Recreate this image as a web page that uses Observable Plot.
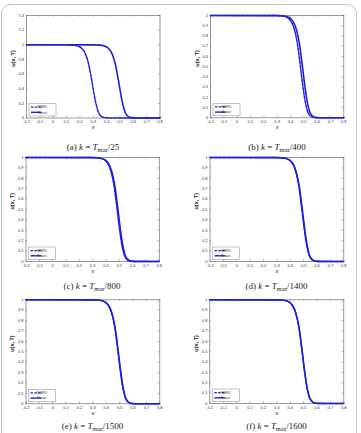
<!DOCTYPE html>
<html>
<head>
<meta charset="utf-8">
<script src="https://cdn.jsdelivr.net/npm/d3@7"></script>
<script src="https://cdn.jsdelivr.net/npm/@observablehq/plot@0.6"></script>
<style>
  html, body { margin: 0; padding: 0; background: #fff; }
  #fig { position: relative; width: 361px; height: 433px; overflow: hidden; background: #fff; }
  #fig .border { position: absolute; left: 1px; top: 4px; width: 354px; height: 445px;
    border: 1.5px solid #c4c4c4; border-radius: 10px; }
  .panel { position: absolute; }
  .cap { position: absolute; font-family: "Liberation Serif", "DejaVu Serif", serif; font-size: 9px;
    color: #222; white-space: nowrap; transform: translate(-50%, -50%); line-height: 1; }
  .cap i { font-style: italic; }
  .cap sub { font-size: 6px; vertical-align: -2px; line-height: 0; }
</style>
</head>
<body>
<div id="fig"><div class="border"></div></div>
<script>
// Solution profile u(x, T): u values at which each curve's x position is listed
const uLevels = [1, 0.999, 0.995, 0.98, 0.95, 0.9, 0.8, 0.7, 0.6, 0.5, 0.4, 0.3, 0.2, 0.1, 0.05, 0.02, 0.005, 0.001, 0];

// Exact solution (same in every panel)
const exactX = [-0.2, 0.308, 0.352, 0.390, 0.415, 0.435, 0.456, 0.470, 0.480, 0.490, 0.499, 0.509, 0.520, 0.535, 0.547, 0.563, 0.583, 0.606, 0.8];

// NSFD solution for each time step k
const nsfdA = [-0.2, 0.108, 0.152, 0.190, 0.215, 0.235, 0.256, 0.270, 0.280, 0.290, 0.299, 0.309, 0.320, 0.335, 0.347, 0.363, 0.383, 0.406, 0.8];
const nsfdB = [-0.2, 0.293, 0.337, 0.375, 0.400, 0.420, 0.441, 0.455, 0.465, 0.475, 0.484, 0.494, 0.505, 0.520, 0.532, 0.548, 0.568, 0.591, 0.8];
const nsfdC = [-0.2, 0.302, 0.346, 0.384, 0.409, 0.429, 0.450, 0.464, 0.474, 0.484, 0.493, 0.503, 0.514, 0.529, 0.541, 0.557, 0.577, 0.600, 0.8];
const nsfdD = [-0.2, 0.305, 0.349, 0.387, 0.412, 0.432, 0.453, 0.467, 0.477, 0.487, 0.496, 0.506, 0.517, 0.532, 0.544, 0.560, 0.580, 0.603, 0.8];
const nsfdE = [-0.2, 0.306, 0.350, 0.388, 0.413, 0.433, 0.454, 0.468, 0.478, 0.488, 0.497, 0.507, 0.518, 0.533, 0.545, 0.561, 0.581, 0.604, 0.8];
const nsfdF = [-0.2, 0.307, 0.351, 0.389, 0.414, 0.434, 0.455, 0.469, 0.479, 0.489, 0.498, 0.508, 0.519, 0.534, 0.546, 0.562, 0.582, 0.605, 0.8];

// Axis ticks
const xTicks = [-0.2, -0.1, 0, 0.1, 0.2, 0.3, 0.4, 0.5, 0.6, 0.7, 0.8];
const yTicksWide = [0, 0.2, 0.4, 0.6, 0.8, 1, 1.2, 1.4];
const yTicksUnit = [0, 0.1, 0.2, 0.3, 0.4, 0.5, 0.6, 0.7, 0.8, 0.9, 1];

// Captions
const panelLetters = ["a", "b", "c", "d", "e", "f"];
const stepDenominators = ["25", "400", "800", "1400", "1500", "1600"];
const legendLabels = ["NSFD", "Exact"];
const xLabel = "x";
const yLabel = "u(x, T)";

const nsfdSeries = [nsfdA, nsfdB, nsfdC, nsfdD, nsfdE, nsfdF];
const yDomains = [1.4, 1, 1, 1, 1, 1];
const yTickSets = [yTicksWide, yTicksUnit, yTicksUnit, yTicksUnit, yTicksUnit, yTicksUnit];

// Page layout: frame edges [left, right, top, bottom] and caption centre
const frames = [
  [26, 159.5, 15, 117.5], [210, 343.3, 15, 117.3],
  [25.5, 158.8, 157, 261], [209.5, 343.3, 157, 261],
  [25.5, 159.3, 299.3, 403.3], [209.3, 343.3, 299.3, 403]
];
const captionPos = [[93, 147], [277, 147], [92, 286], [276.5, 286], [92.5, 425.5], [276.5, 425.5]];

const blue = "#1e1ee0";
const axisGray = "#707070";
const fmt = d => String(+d.toFixed(1));

const fig = document.getElementById("fig");

frames.forEach((fr, i) => {
  const col = i % 2, row = Math.floor(i / 2);
  const sx = col * 180, sy = row * 142, W = 181, H = 142;
  const [L, R, T, B] = fr;
  const ml = L - sx, mr = sx + W - R, mt = T - sy, mb = sy + H - B;
  const fw = R - L, fh = B - T;

  const exactRows = uLevels.map((u, j) => ({x: exactX[j], u}));
  const nsfdRows = uLevels.map((u, j) => ({x: nsfdSeries[i][j], u}));
  const yt = yTickSets[i];

  const chart = Plot.plot({
    width: W, height: H,
    marginLeft: ml, marginRight: mr, marginTop: mt, marginBottom: mb,
    x: {domain: [-0.2, 0.8], label: null},
    y: {domain: [0, yDomains[i]], label: null},
    style: {fontFamily: "'Liberation Sans', Arial, sans-serif", fontSize: "4px", background: "transparent", overflow: "visible", color: "#333"},
    marks: [
      Plot.frame({stroke: axisGray, strokeWidth: 0.7}),
      // inward ticks on all four sides
      Plot.tickX(xTicks, {x: d => d, stroke: axisGray, strokeWidth: 0.6, insetTop: fh - 1.6}),
      Plot.tickX(xTicks, {x: d => d, stroke: axisGray, strokeWidth: 0.6, insetBottom: fh - 1.6}),
      Plot.tickY(yt, {y: d => d, stroke: axisGray, strokeWidth: 0.6, insetRight: fw - 1.6}),
      Plot.tickY(yt, {y: d => d, stroke: axisGray, strokeWidth: 0.6, insetLeft: fw - 1.6}),
      Plot.axisX(xTicks, {tickSize: 0, tickPadding: 2.6, tickFormat: fmt, fontSize: 4, fill: "#333", label: null}),
      Plot.axisY(yt, {tickSize: 0, tickPadding: 2.4, tickFormat: fmt, fontSize: 4, fill: "#333", label: null}),
      Plot.line(nsfdRows, {x: "x", y: "u", stroke: blue, strokeWidth: 1.5, strokeDasharray: "3,1.4", curve: "monotone-x"}),
      Plot.line(exactRows, {x: "x", y: "u", stroke: blue, strokeWidth: 1.6, curve: "monotone-x"}),
      Plot.text([xLabel], {frameAnchor: "bottom", dy: 9.5, text: d => d, fontSize: 6, fontStyle: "italic", fill: "#222", lineAnchor: "middle"}),
      Plot.text([yLabel], {frameAnchor: "left", dx: -13.6, rotate: -90, text: d => d, fontSize: 5.5, fontWeight: 600, fill: "#222", lineAnchor: "middle"})
    ]
  });
  chart.classList.add("panel");
  chart.style.left = sx + "px";
  chart.style.top = sy + "px";

  // legend box in the lower-left corner of the axes
  const lw = 27, lh = 12.5;
  const lg = d3.select(chart).append("g")
    .attr("transform", `translate(${ml + 3},${mt + fh - 1.5 - lh})`);
  lg.append("rect").attr("width", lw).attr("height", lh)
    .attr("fill", "#fff").attr("stroke", "#888").attr("stroke-width", 0.5);
  legendLabels.forEach((name, k) => {
    const yy = 3.6 + k * 5.2;
    lg.append("line").attr("x1", 2).attr("x2", 12.5).attr("y1", yy).attr("y2", yy)
      .attr("stroke", blue).attr("stroke-width", 1.4)
      .attr("stroke-dasharray", k === 0 ? "2.6,1.2" : null);
    lg.append("text").attr("x", 13.5).attr("y", yy).attr("dy", "0.35em")
      .attr("font-size", 3.6).attr("fill", "#333").text(name);
  });

  fig.appendChild(chart);

  const cap = document.createElement("div");
  cap.className = "cap";
  cap.style.left = captionPos[i][0] + "px";
  cap.style.top = captionPos[i][1] + "px";
  cap.innerHTML = `(${panelLetters[i]}) <i>k</i> = <i>T</i><sub>max</sub>/${stepDenominators[i]}`;
  fig.appendChild(cap);
});
</script>
</body>
</html>
